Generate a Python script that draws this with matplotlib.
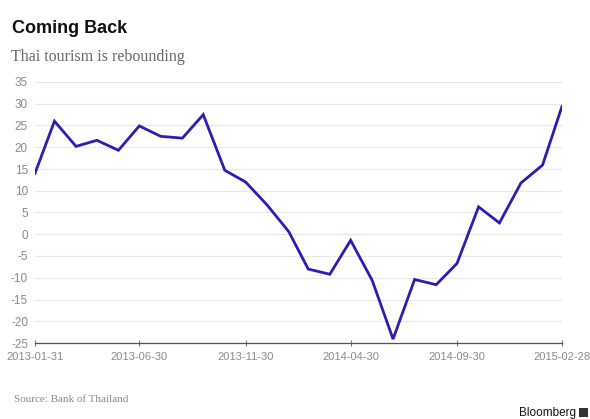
import numpy as np
import pandas as pd
import matplotlib
matplotlib.use("Agg")
import matplotlib.pyplot as plt
import matplotlib.dates as mdates

plt.rcParams["axes.unicode_minus"] = False

# Year-on-year change in tourist arrivals, monthly
dates = pd.date_range("2013-01-31", "2015-02-28", freq="ME")
growth = [14.0, 26.0, 20.2, 21.6, 19.3, 24.9, 22.5, 22.1, 27.5, 14.7,
          12.0, 6.7, 0.6, -8.0, -9.2, -1.4, -10.6, -24.1, -10.4, -11.6,
          -6.7, 6.3, 2.6, 11.8, 15.9, 29.4]
tick_dates = dates[::5]
yticks = list(range(-25, 40, 5))

sans = ["Liberation Sans", "DejaVu Sans"]
serif = ["Liberation Serif", "DejaVu Serif"]
grey = "#8a8a8a"

fig = plt.figure(figsize=(5.9, 4.19), dpi=100)
ax = fig.add_axes([35 / 590, 1 - 343 / 419, 527 / 590, 261 / 419])

ax.plot(dates, growth, color="#2c1cb3", linewidth=2.0, solid_joinstyle="miter")

ax.set_ylim(-25, 35)
ax.set_xlim(dates[0], dates[-1])
ax.set_yticks(yticks)
ax.set_xticks(tick_dates)
ax.xaxis.set_major_formatter(mdates.DateFormatter("%Y-%m-%d"))

ax.grid(axis="y", color="#e8e8e8", linewidth=0.9)
ax.set_axisbelow(True)
for side in ["top", "right", "left"]:
    ax.spines[side].set_visible(False)
ax.spines["bottom"].set_color("#555555")
ax.spines["bottom"].set_linewidth(0.9)

ax.tick_params(axis="y", length=0, pad=5, labelsize=8.5, labelcolor=grey)
ax.tick_params(axis="x", direction="inout", length=5, width=0.8, color="#777777",
               pad=4, labelsize=8, labelcolor=grey)
for lab in ax.get_xticklabels() + ax.get_yticklabels():
    lab.set_family(sans)

fig.text(12 / 590, 1 - 33 / 419, "Coming Back", family=sans,
         fontsize=13, fontweight="bold", color="#111111", va="baseline", ha="left")
fig.text(11 / 590, 1 - 61 / 419, "Thai tourism is rebounding", family=serif,
         fontsize=11.5, color="#666666", va="baseline", ha="left")
fig.text(14 / 590, 1 - 402 / 419, "Source: Bank of Thailand", family=serif,
         fontsize=8, color=grey, va="baseline", ha="left")
fig.text(576 / 590, 1 - 416 / 419, "Bloomberg", family=sans,
         fontsize=8.5, color="#111111", va="baseline", ha="right")
logo = fig.add_axes([579 / 590, 1 - 417 / 419, 9 / 590, 9 / 419])
logo.set_facecolor("#333333")
logo.set_xticks([])
logo.set_yticks([])
for s in logo.spines.values():
    s.set_visible(False)

fig.savefig("out.png", dpi=100)
